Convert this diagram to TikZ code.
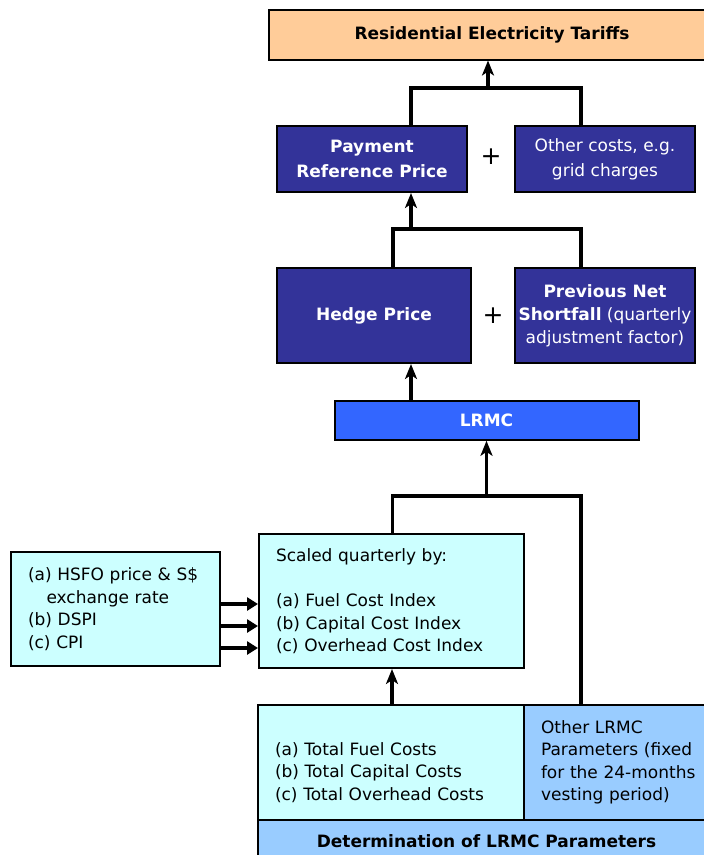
\documentclass[tikz,border=0pt]{standalone}
\usepackage{fontspec}
\setmainfont{DejaVu Sans}
\usetikzlibrary{arrows.meta}
\definecolor{tariffbg}{HTML}{FFCC99}
\definecolor{navybg}{HTML}{333399}
\definecolor{lrmcbg}{HTML}{3366FF}
\definecolor{cyanbg}{HTML}{CCFFFF}
\definecolor{paleblue}{HTML}{99CCFF}
\tikzset{
  box/.style={draw=black, line width=2pt, inner sep=0pt, align=center,
    font={\fontsize{17}{22.5}\selectfont}},
  navybox/.style={box, fill=navybg, text=white, font={\fontsize{17}{25}\selectfont}},
  listbox/.style={box, align=left, inner xsep=17pt},
  wire/.style={line width=3.2pt},
  uparrow/.style={wire, -{Stealth[length=15pt,width=12pt,inset=4pt]}},
  sidearrow/.style={wire, -{Triangle[length=11pt,width=13pt]}},
  plus/.style={font={\fontsize{25}{25}\selectfont}, inner sep=0pt}
}
\begin{document}
\begin{tikzpicture}[x=1pt, y=-1pt]
			%%%%% START %%%%%
			\useasboundingbox (0,0) rectangle (704,855);
			\clip (0,0) rectangle (704,855);
			
			\node[box, fill=tariffbg, minimum width=446pt, minimum height=50pt] (tariff) at (492,34.5) {\textbf{Residential Electricity Tariffs}};
			
			\node[navybox, minimum width=190pt, minimum height=66pt] (prp) at (372,159) {\textbf{Payment}\\\textbf{Reference Price}};
			\node[navybox, minimum width=180pt, minimum height=66pt] (other) at (605,159) {Other costs, e.g.\\grid charges};
			\node[plus] (plusa) at (491,157) {+};
			
			\node[navybox, minimum width=194pt, minimum height=95pt] (hedge) at (374,315.5) {\textbf{Hedge Price}};
			\node[navybox, minimum width=180pt, minimum height=95pt, font={\fontsize{17}{23}\selectfont}] (shortfall) at (605,315.5) {\textbf{Previous Net}\\\textbf{Shortfall} (quarterly\\adjustment factor)};
			\node[plus] (plusb) at (493,316) {+};
			
			\node[box, fill=lrmcbg, text=white, minimum width=304pt, minimum height=39pt] (lrmc) at (486.5,420.3) {\textbf{LRMC}};
			
			\node[listbox, fill=cyanbg, text width=175pt, minimum height=114pt] (indices) at (115.5,609) {(a) HSFO price \& S\$\\\hspace*{18.5pt}exchange rate\\(b) DSPI\\(c) CPI};
			\node[listbox, fill=cyanbg, text width=231pt, minimum height=134pt] (scaled) at (391.5,601) {Scaled quarterly by:\\[23pt](a) Fuel Cost Index\\(b) Capital Cost Index\\(c) Overhead Cost Index};
			
			\node[listbox, fill=cyanbg, text width=232pt, minimum height=115pt] (totals) at (391,762.5) {\mbox{}\\[10pt](a) Total Fuel Costs\\(b) Total Capital Costs\\(c) Total Overhead Costs};
			\node[listbox, fill=paleblue, text width=158pt, minimum height=115pt] (params) at (620,762.5) {Other LRMC\\Parameters (fixed\\for the 24-months\\vesting period)};
			\node[box, fill=paleblue, minimum width=457pt, minimum height=42pt] (determ) at (486.5,841) {\textbf{Determination of LRMC Parameters}};
			
			% joins and arrows
			\coordinate (jtop) at (488,88);
			\draw[wire] ([xshift=39pt]prp.north) |- (jtop) -| ([xshift=-24pt]other.north);
			\draw[uparrow] (jtop) -- (jtop |- tariff.south);
			
			\coordinate (jmid) at (411,229);
			\draw[wire] ([xshift=19pt]hedge.north) |- (jmid) -| ([xshift=-24pt]shortfall.north);
			\draw[uparrow] (jmid) -- (jmid |- prp.south);
			\draw[uparrow] (lrmc.north -| jmid) -- (jmid |- hedge.south);
			
			\coordinate (jlow) at (486.5,496);
			\draw[wire] ([xshift=1pt]scaled.north) |- (jlow) -| ([xshift=-39pt]params.north);
			\draw[uparrow] (jlow) -- (lrmc.south);
			\draw[uparrow] ([xshift=1pt]totals.north) -- ([xshift=1pt]totals.north |- scaled.south);
			
			\foreach \ya in {604,626,648}
				\draw[sidearrow] (indices.east |- 0,\ya) -- (scaled.west |- 0,\ya);
			
			%%%%% END %%%%%
\end{tikzpicture}
\end{document}
